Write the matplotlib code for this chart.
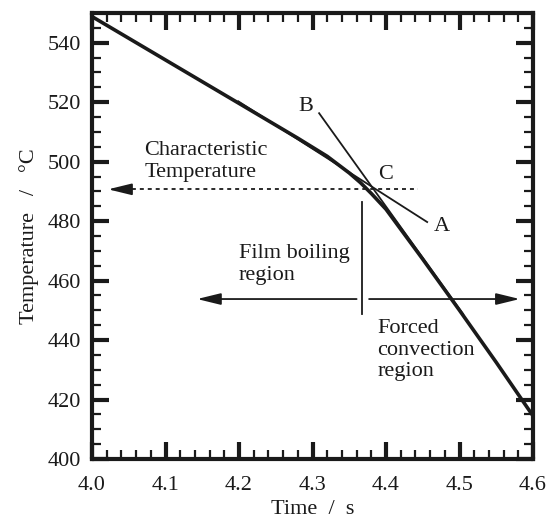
import numpy as np
import matplotlib
matplotlib.use('Agg')
import matplotlib.pyplot as plt
from matplotlib.ticker import MultipleLocator

plt.rcParams['font.family'] = ['Liberation Serif', 'DejaVu Serif']

# Cooling curve
time_s = [4.00, 4.10, 4.20, 4.28, 4.32, 4.35, 4.365, 4.38, 4.40, 4.45, 4.50, 4.55, 4.60]
temp_c = [548.8, 534.2, 519.6, 507.9, 501.8, 496.2, 493.0, 489.3, 484.0, 467.2, 450.0, 432.5, 414.5]

# Tangent lines (film boiling "A" and forced convection "B")
line_a_t = [4.199, 4.456]
line_a_T = [520.3, 479.7]
line_b_t = [4.309, 4.505]
line_b_T = [516.3, 448.7]

# Characteristic temperature and region split
char_T = 490.7
split_t = 4.367
split_T = [448.7, 486.4]
arrow_T = 453.8

ink = '#1a1a1a'
fig = plt.figure(figsize=(5.49, 5.2), dpi=100)
ax = fig.add_axes([92 / 549, 61 / 520, 441 / 549, 446 / 520])

ax.plot(time_s, temp_c, color=ink, lw=2.6, solid_capstyle='butt')
ax.plot(line_a_t, line_a_T, color=ink, lw=1.3)
ax.plot(line_b_t, line_b_T, color=ink, lw=1.3)

# dotted characteristic temperature line with arrow head at the axis
ax.plot([4.032, 4.443], [char_T, char_T], color=ink, lw=1.3, ls=(0, (2.2, 2.2)))
arrow_kw = dict(arrowstyle='-|>,head_length=0.9,head_width=0.22',
                color=ink, lw=1.3, mutation_scale=16, shrinkA=0, shrinkB=0)
ax.annotate('', xy=(4.022, char_T), xytext=(4.045, char_T), arrowprops=arrow_kw)

# region split
ax.plot([split_t, split_t], split_T, color=ink, lw=1.3)
ax.annotate('', xy=(4.143, arrow_T), xytext=(4.360, arrow_T), arrowprops=arrow_kw)
ax.annotate('', xy=(4.582, arrow_T), xytext=(4.377, arrow_T), arrowprops=arrow_kw)

fs = 16
ax.text(4.071, 500.0, 'Characteristic\nTemperature', fontsize=fs, ha='left', va='center',
        color=ink, linespacing=1.2)
ax.text(4.200, 465.4, 'Film boiling\nregion', fontsize=fs, ha='left', va='center',
        color=ink, linespacing=1.2)
ax.text(4.388, 436.6, 'Forced\nconvection\nregion', fontsize=fs, ha='left', va='center',
        color=ink, linespacing=1.2)
ax.text(4.291, 518.7, 'B', fontsize=fs, ha='center', va='center', color=ink)
ax.text(4.399, 495.8, 'C', fontsize=fs, ha='center', va='center', color=ink)
ax.text(4.476, 478.3, 'A', fontsize=fs, ha='center', va='center', color=ink)

ax.set_xlim(4.0, 4.6)
ax.set_ylim(400, 550)
ax.xaxis.set_major_locator(MultipleLocator(0.1))
ax.xaxis.set_minor_locator(MultipleLocator(0.02))
ax.yaxis.set_major_locator(MultipleLocator(20))
ax.yaxis.set_minor_locator(MultipleLocator(5))
ax.set_xticklabels([f'{v:.1f}' for v in ax.get_xticks()])

ax.tick_params(which='both', direction='in', top=True, right=True,
               labelsize=fs, colors=ink)
ax.tick_params(which='major', length=12, width=3, pad=8)
ax.tick_params(axis='x', which='major', pad=12)
ax.tick_params(which='minor', length=6.5, width=1.6)
for s in ax.spines.values():
    s.set_linewidth(3)
    s.set_color(ink)

ax.set_xlabel('Time  /  s', fontsize=fs, color=ink, labelpad=4)
ax.set_ylabel('Temperature   /   °C', fontsize=fs, color=ink, labelpad=6)

fig.savefig('out.png', dpi=100)
